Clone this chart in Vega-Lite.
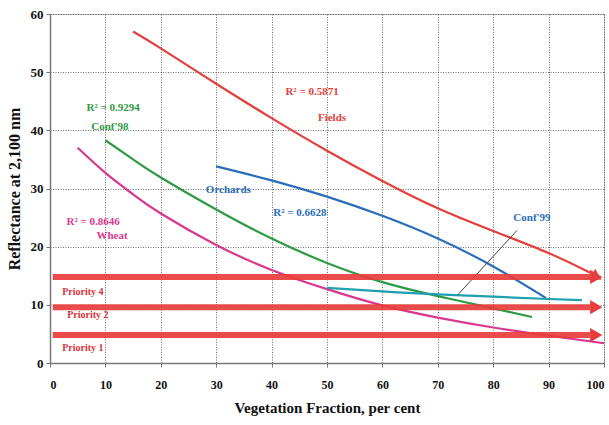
{
  "$schema": "https://vega.github.io/schema/vega-lite/v6.json",
  "width": 554,
  "height": 349,
  "autosize": {"type": "none"},
  "padding": {"left": 50, "top": 14, "right": 5, "bottom": 62},
  "background": "white",
  "config": {
    "view": {"stroke": "#bbbbbb", "strokeWidth": 1},
    "font": "Liberation Serif",
    "axis": {
      "labelFont": "Liberation Serif",
      "labelFontWeight": "bold",
      "labelFontSize": 12,
      "labelColor": "#111",
      "titleFont": "Liberation Serif",
      "titleFontWeight": "bold",
      "titleFontSize": 15,
      "titleColor": "#111",
      "domainColor": "#777",
      "domainWidth": 1.5,
      "tickColor": "#777",
      "tickSize": 4,
      "gridColor": "#555",
      "gridDash": [1, 1.5],
      "gridWidth": 1,
      "gridOpacity": 0.85
    }
  },
  "datasets": {
    "curves": [
      {"series": "Fields", "x": 15, "y": 57},
      {"series": "Fields", "x": 20, "y": 54.1},
      {"series": "Fields", "x": 30, "y": 48},
      {"series": "Fields", "x": 40, "y": 42.1},
      {"series": "Fields", "x": 50, "y": 36.5},
      {"series": "Fields", "x": 60, "y": 31.3},
      {"series": "Fields", "x": 70, "y": 26.6},
      {"series": "Fields", "x": 80, "y": 22.7},
      {"series": "Fields", "x": 90, "y": 18.9},
      {"series": "Fields", "x": 97.5, "y": 15.5},
      {"series": "Orchards", "x": 30, "y": 33.8},
      {"series": "Orchards", "x": 40, "y": 31.4},
      {"series": "Orchards", "x": 50, "y": 28.6},
      {"series": "Orchards", "x": 60, "y": 25.3},
      {"series": "Orchards", "x": 70, "y": 21.4},
      {"series": "Orchards", "x": 80, "y": 16.6},
      {"series": "Orchards", "x": 89.5, "y": 11.2},
      {"series": "Conf'98", "x": 10, "y": 38.3},
      {"series": "Conf'98", "x": 15, "y": 35},
      {"series": "Conf'98", "x": 20, "y": 31.9},
      {"series": "Conf'98", "x": 30, "y": 26.4},
      {"series": "Conf'98", "x": 40, "y": 21.4},
      {"series": "Conf'98", "x": 50, "y": 17.2},
      {"series": "Conf'98", "x": 60, "y": 13.9},
      {"series": "Conf'98", "x": 70, "y": 11.5},
      {"series": "Conf'98", "x": 80, "y": 9.4},
      {"series": "Conf'98", "x": 87, "y": 7.9},
      {"series": "Wheat", "x": 5, "y": 37},
      {"series": "Wheat", "x": 10, "y": 32.7},
      {"series": "Wheat", "x": 15, "y": 29},
      {"series": "Wheat", "x": 20, "y": 25.7},
      {"series": "Wheat", "x": 30, "y": 20.3},
      {"series": "Wheat", "x": 40, "y": 16},
      {"series": "Wheat", "x": 50, "y": 12.7},
      {"series": "Wheat", "x": 60, "y": 9.9},
      {"series": "Wheat", "x": 70, "y": 7.8},
      {"series": "Wheat", "x": 80, "y": 6.1},
      {"series": "Wheat", "x": 90, "y": 4.7},
      {"series": "Wheat", "x": 100, "y": 3.4},
      {"series": "Conf'99", "x": 50, "y": 12.9},
      {"series": "Conf'99", "x": 60, "y": 12.3},
      {"series": "Conf'99", "x": 70, "y": 11.8},
      {"series": "Conf'99", "x": 80, "y": 11.4},
      {"series": "Conf'99", "x": 90, "y": 11},
      {"series": "Conf'99", "x": 96, "y": 10.8}
    ],
    "priority": [
      {"series": "Priority 4", "x": 0.5, "y": 14.8},
      {"series": "Priority 4", "x": 97.5, "y": 14.8},
      {"series": "Priority 2", "x": 0.5, "y": 9.6},
      {"series": "Priority 2", "x": 97.5, "y": 9.6},
      {"series": "Priority 1", "x": 0.5, "y": 4.8},
      {"series": "Priority 1", "x": 97.5, "y": 4.8}
    ],
    "heads": [
      {"series": "Priority 4", "x": 98.6, "y": 14.8},
      {"series": "Priority 2", "x": 98.6, "y": 9.6},
      {"series": "Priority 1", "x": 98.6, "y": 4.8}
    ],
    "fieldsHead": [
      {"series": "Fields", "x": 98.7, "y": 14.8}
    ],
    "leader": [
      {"x": 73.6, "y": 11.7},
      {"x": 84.3, "y": 22.8}
    ],
    "labels": [
      {"series": "Conf'98", "x": 11.4, "y": 43.8, "label": "R² = 0.9294"},
      {"series": "Conf'98", "x": 10.8, "y": 40.5, "label": "Conf'98"},
      {"series": "Fields", "x": 47.3, "y": 46.6, "label": "R² = 0.5871"},
      {"series": "Fields", "x": 50.9, "y": 42.1, "label": "Fields"},
      {"series": "Orchards", "x": 32.2, "y": 29.7, "label": "Orchards"},
      {"series": "Orchards", "x": 45.1, "y": 25.8, "label": "R² = 0.6628"},
      {"series": "Conf'99", "x": 87, "y": 24.9, "label": "Conf'99"},
      {"series": "Wheat", "x": 7.8, "y": 24.2, "label": "R² = 0.8646"},
      {"series": "Wheat", "x": 11.2, "y": 21.8, "label": "Wheat"}
    ],
    "plabels": [
      {"x": 2.2, "y": 12.2, "label": "Priority 4"},
      {"x": 3.1, "y": 8.2, "label": "Priority 2"},
      {"x": 2.2, "y": 2.6, "label": "Priority 1"}
    ]
  },
  "layer": [
    {
      "data": {"name": "curves"},
      "mark": {"type": "line", "interpolate": "natural", "strokeWidth": 2.2},
      "encoding": {
        "x": {
          "field": "x", "type": "quantitative",
          "scale": {"domain": [0, 100], "nice": false},
          "axis": {"values": [0, 10, 20, 30, 40, 50, 60, 70, 80, 90, 100], "title": "Vegetation Fraction, per cent", "labelPadding": 12, "titlePadding": 10}
        },
        "y": {
          "field": "y", "type": "quantitative",
          "scale": {"domain": [0, 60], "nice": false},
          "axis": {"values": [0, 10, 20, 30, 40, 50, 60], "title": "Reflectance at 2,100 nm", "labelPadding": 3, "titlePadding": 8, "labelFontSize": 13, "titleFontSize": 16}
        },
        "color": {
          "field": "series", "type": "nominal", "legend": null,
          "scale": {"domain": ["Fields", "Orchards", "Conf'98", "Wheat", "Conf'99"], "range": ["#e2403c", "#2a6db8", "#2f9a45", "#d9388f", "#1f9fb0"]}
        },
        "detail": {"field": "series"}
      }
    },
    {
      "data": {"name": "leader"},
      "mark": {"type": "line", "color": "#444", "strokeWidth": 1},
      "encoding": {
        "x": {"field": "x", "type": "quantitative"},
        "y": {"field": "y", "type": "quantitative"}
      }
    },
    {
      "data": {"name": "priority"},
      "mark": {"type": "line", "color": "#e83c3c", "strokeWidth": 6, "opacity": 0.92},
      "encoding": {
        "x": {"field": "x", "type": "quantitative"},
        "y": {"field": "y", "type": "quantitative"},
        "detail": {"field": "series"}
      }
    },
    {
      "data": {"name": "heads"},
      "mark": {"type": "point", "shape": "triangle-right", "filled": true, "color": "#e83c3c", "size": 200, "opacity": 1},
      "encoding": {
        "x": {"field": "x", "type": "quantitative"},
        "y": {"field": "y", "type": "quantitative"}
      }
    },
    {
      "data": {"name": "fieldsHead"},
      "mark": {"type": "point", "shape": "triangle-right", "filled": true, "color": "#e2403c", "size": 160, "opacity": 1, "angle": 30},
      "encoding": {
        "x": {"field": "x", "type": "quantitative"},
        "y": {"field": "y", "type": "quantitative"}
      }
    },
    {
      "data": {"name": "labels"},
      "mark": {"type": "text", "font": "Liberation Serif", "fontWeight": "bold", "fontSize": 11, "align": "center", "baseline": "middle"},
      "encoding": {
        "x": {"field": "x", "type": "quantitative"},
        "y": {"field": "y", "type": "quantitative"},
        "text": {"field": "label"},
        "color": {
          "field": "series", "type": "nominal", "legend": null,
          "scale": {"domain": ["Fields", "Orchards", "Conf'98", "Wheat", "Conf'99"], "range": ["#e2403c", "#2a6db8", "#2f9a45", "#d9388f", "#2a6db8"]}
        }
      }
    },
    {
      "data": {"name": "plabels"},
      "mark": {"type": "text", "font": "Liberation Serif", "fontWeight": "bold", "fontSize": 10, "align": "left", "baseline": "middle", "color": "#d8333a"},
      "encoding": {
        "x": {"field": "x", "type": "quantitative"},
        "y": {"field": "y", "type": "quantitative"},
        "text": {"field": "label"}
      }
    }
  ],
  "resolve": {"scale": {"color": "independent"}}
}
